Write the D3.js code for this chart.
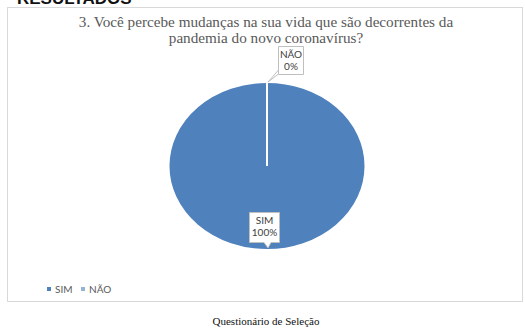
<!DOCTYPE html>
<html>
<head>
<meta charset="utf-8">
<script src="https://cdn.jsdelivr.net/npm/d3@7"></script>
<style>
  body { margin: 0; background: #fff; }
  svg { display: block; }
  .serif { font-family: "Liberation Serif", "Times New Roman", serif; }
  .sans { font-family: Lato, "Open Sans", sans-serif; }
</style>
</head>
<body>
<svg id="chart" width="525" height="332"></svg>
<script>
// answers to question 3
const categories = ["SIM", "NÃO"];
const values = [100, 0];
const percentLabels = ["100%", "0%"];
const colors = ["#4f81bd", "#95b3d7"];

const titleLines = [
  "3. Você percebe mudanças na sua vida que são decorrentes da",
  "pandemia do novo coronavírus?"
];
const caption = "Questionário de Seleção";

const svg = d3.select("svg#chart");
const width = 525, height = 332;

// header cut off at the top of the page
svg.append("text")
   .attr("x", 17).attr("y", 4)
   .attr("font-family", "'Liberation Sans', Arial, sans-serif")
   .attr("font-weight", "bold")
   .attr("font-size", 17)
   .attr("fill", "#111")
   .text("RESULTADOS");

// chart frame
svg.append("rect")
   .attr("x", 7.5).attr("y", 7.5)
   .attr("width", 515).attr("height", 294)
   .attr("fill", "#fff")
   .attr("stroke", "#d9d9d9");

const title = svg.append("text")
   .attr("class", "serif")
   .attr("text-anchor", "middle")
   .attr("fill", "#595959")
   .attr("font-size", 15.2);
title.selectAll("tspan")
     .data(titleLines)
     .join("tspan")
     .attr("x", 266)
     .attr("y", (d, i) => 27 + i * 15.5)
     .text(d => d);

// pie (the picture is stretched horizontally, so draw an ellipse)
const cx = 267, cy = 166;
const rx = 98.5, ry = 84;

const pie = d3.pie().sort(null).value(d => d);
const arcs = pie(values);
const arc = d3.arc().innerRadius(0).outerRadius(ry);

const g = svg.append("g")
   .attr("transform", `translate(${cx},${cy}) scale(${rx / ry},1)`);

g.selectAll("path")
 .data(arcs)
 .join("path")
 .attr("d", arc)
 .attr("fill", (d, i) => colors[i])
 .attr("stroke", "#fff")
 .attr("stroke-width", 2)
 .attr("vector-effect", "non-scaling-stroke");

// data label callouts
function callout(box, tail, lines) {
  const [x0, y0, w, h] = box;
  const x1 = x0 + w, y1 = y0 + h;
  let p = "";
  if (tail.side === "bottom") {
    p = `M${x0},${y0}H${x1}V${y1}H${tail.b}L${tail.tx},${tail.ty}L${tail.a},${y1}H${x0}Z`;
  } else {
    p = `M${x0},${y0}H${x1}V${y1}H${x0}V${tail.a}L${tail.tx},${tail.ty}L${x0},${tail.b}Z`;
  }
  svg.append("path")
     .attr("d", p)
     .attr("fill", "#fff")
     .attr("stroke", "#bfbfbf")
     .attr("stroke-width", 1);
  svg.append("text")
     .attr("class", "sans")
     .attr("font-size", 10)
     .attr("text-anchor", "middle")
     .attr("fill", "#404040")
     .selectAll("tspan")
     .data(lines)
     .join("tspan")
     .attr("x", x0 + w / 2)
     .attr("y", (d, i) => y0 + 11.5 + i * 12)
     .text(d => d);
}

// NÃO: zero slice at the top edge of the pie
const topY = cy - ry;
callout([278.5, 46.5, 25, 28], {side: "left", a: 70, b: 74, tx: cx + 1, ty: topY}, [categories[1], percentLabels[1]]);
// SIM: inside the pie, near the bottom
callout([249.5, 212.5, 30, 30], {side: "bottom", a: 264, b: 271, tx: cx + 1, ty: cy + ry - 2}, [categories[0], percentLabels[0]]);

// legend
const legend = svg.append("g")
   .attr("transform", "translate(47,291)");
const item = legend.selectAll("g")
   .data(categories)
   .join("g")
   .attr("transform", (d, i) => `translate(${i * 34},0)`);
item.append("rect")
    .attr("x", 0).attr("y", -4)
    .attr("width", 4).attr("height", 4)
    .attr("fill", (d, i) => colors[i]);
item.append("text")
    .attr("class", "sans")
    .attr("font-size", 10)
    .attr("x", 8).attr("y", 1.5)
    .attr("fill", "#595959")
    .text(d => d);

// caption under the figure
svg.append("text")
   .attr("class", "serif")
   .attr("font-size", 11)
   .attr("x", 266).attr("y", 325)
   .attr("text-anchor", "middle")
   .attr("fill", "#111")
   .text(caption);
</script>
</body>
</html>
